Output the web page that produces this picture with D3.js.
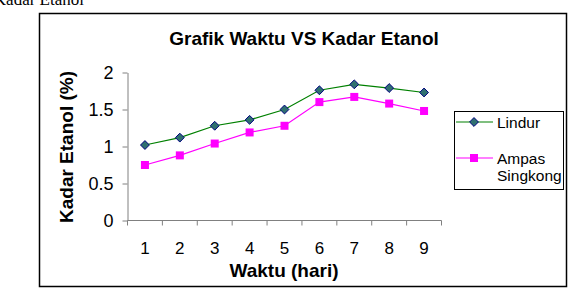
<!DOCTYPE html>
<html>
<head>
<meta charset="utf-8">
<script src="https://cdn.jsdelivr.net/npm/d3@7"></script>
<style>
  body { margin: 0; background: #fff; }
  svg { display: block; }
</style>
</head>
<body>
<div id="chart"></div>
<script>
const WIDTH = 570
const HEIGHT = 292

const days = [1, 2, 3, 4, 5, 6, 7, 8, 9];
const lindur = [1.02, 1.12, 1.28, 1.36, 1.50, 1.76, 1.84, 1.79, 1.73];
const ampasSingkong = [0.75, 0.88, 1.04, 1.19, 1.28, 1.60, 1.67, 1.58, 1.48];
const yTicks = [0, 0.5, 1, 1.5, 2];

var svg = d3.select("#chart").append("svg")
    .attr("width", WIDTH)
    .attr("height", HEIGHT)
    .attr("font-family", "Arial, 'Liberation Sans', sans-serif");

// leftover document text clipped at the top
svg.append("text")
    .attr("x", 84)
    .attr("y", 5)
    .attr("text-anchor", "end")
    .attr("font-family", "'Liberation Serif', 'Times New Roman', serif")
    .attr("font-size", "17px")
    .text("Kadar Etanol");

// outer frame
svg.append("rect")
    .attr("x", 39.5).attr("y", 13.5)
    .attr("width", 527).attr("height", 273)
    .attr("fill", "none")
    .attr("stroke", "#000")
    .attr("stroke-width", 1.5);

svg.append("text")
    .attr("x", 304)
    .attr("y", 45)
    .attr("text-anchor", "middle")
    .attr("font-weight", "bold")
    .attr("font-size", "19px")
    .text("Grafik Waktu VS Kadar Etanol");

var xScale = d3.scaleBand()
    .domain(days)
    .range([127.5, 441.5]);

var yScale = d3.scaleLinear()
    .domain([0, 2])
    .range([220.5, 72.5]);

// y axis
var yAxis = svg.append("g")
    .attr("transform", "translate(127.5,0)")
    .call(d3.axisLeft(yScale).tickValues(yTicks).tickSize(5).tickSizeOuter(0).tickFormat(d => d));
yAxis.selectAll("path, line").attr("stroke", "#808080");
yAxis.selectAll("text")
    .attr("font-size", "18px")
    .attr("fill", "#000")
    .attr("x", -14);

// x axis
var xAxis = svg.append("g")
    .attr("transform", "translate(0,220.5)");
xAxis.append("line")
    .attr("x1", xScale.range()[0]).attr("x2", xScale.range()[1])
    .attr("stroke", "#808080");
xAxis.selectAll("line.tick")
    .data(days.concat([10]))
    .enter()
    .append("line")
    .attr("class", "tick")
    .attr("x1", (d, i) => i < days.length ? xScale(d) : xScale.range()[1])
    .attr("x2", (d, i) => i < days.length ? xScale(d) : xScale.range()[1])
    .attr("y1", 0).attr("y2", 5)
    .attr("stroke", "#808080");
xAxis.selectAll("text")
    .data(days)
    .enter()
    .append("text")
    .attr("x", d => xScale(d) + xScale.bandwidth() / 2)
    .attr("y", 33.5)
    .attr("text-anchor", "middle")
    .attr("font-size", "17px")
    .text(d => d);

svg.append("text")
    .attr("x", 284)
    .attr("y", 277)
    .attr("text-anchor", "middle")
    .attr("font-weight", "bold")
    .attr("font-size", "19px")
    .text("Waktu (hari)");

svg.append("text")
    .attr("transform", "translate(73,147) rotate(-90)")
    .attr("text-anchor", "middle")
    .attr("font-weight", "bold")
    .attr("font-size", "19px")
    .text("Kadar Etanol (%)");

var line = d3.line()
    .x((d, i) => xScale(days[i]) + xScale.bandwidth() / 2)
    .y(d => yScale(d));

const diamond = d3.symbol().type(d3.symbolDiamond2).size(50);

function drawSeries(values, color, marker) {
    svg.append("path")
        .datum(values)
        .attr("fill", "none")
        .attr("stroke", color)
        .attr("stroke-width", 1.2)
        .attr("d", line);
    var g = svg.append("g");
    values.forEach((v, i) => {
        marker(g, xScale(days[i]) + xScale.bandwidth() / 2, yScale(v));
    });
}

function diamondMarker(g, x, y) {
    g.append("path")
        .attr("d", diamond())
        .attr("transform", `translate(${x},${y})`)
        .attr("fill", "#2f7070")
        .attr("stroke", "#000080")
        .attr("stroke-width", 1);
}

function squareMarker(g, x, y) {
    g.append("rect")
        .attr("x", x - 4).attr("y", y - 4)
        .attr("width", 8).attr("height", 8)
        .attr("fill", "#ff00ff");
}

drawSeries(lindur, "#008000", diamondMarker);
drawSeries(ampasSingkong, "#ff00ff", squareMarker);

// legend
var legend = svg.append("g");
legend.append("rect")
    .attr("x", 454.5).attr("y", 111.5)
    .attr("width", 109).attr("height", 78)
    .attr("fill", "#fff")
    .attr("stroke", "#000");

legend.append("line")
    .attr("x1", 456).attr("x2", 493).attr("y1", 122).attr("y2", 122)
    .attr("stroke", "#008000").attr("stroke-width", 1.2);
diamondMarker(legend, 474, 122);
legend.append("text")
    .attr("x", 497).attr("y", 127.5)
    .attr("font-size", "15.5px")
    .text("Lindur");

legend.append("line")
    .attr("x1", 456).attr("x2", 493).attr("y1", 158).attr("y2", 158)
    .attr("stroke", "#ff00ff").attr("stroke-width", 1.2);
squareMarker(legend, 474, 158);
legend.append("text")
    .attr("x", 497).attr("y", 163.5)
    .attr("font-size", "15.5px")
    .text("Ampas");
legend.append("text")
    .attr("x", 497).attr("y", 181)
    .attr("font-size", "15.5px")
    .text("Singkong");
</script>
</body>
</html>
